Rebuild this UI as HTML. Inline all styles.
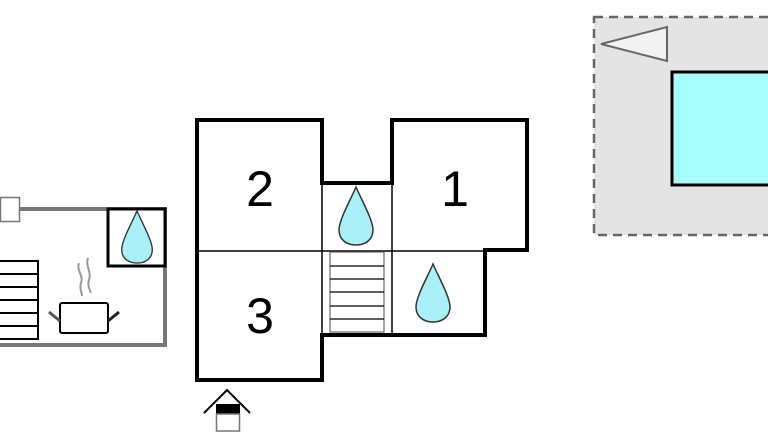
<!DOCTYPE html>
<html><head><meta charset="utf-8"><style>html,body{margin:0;padding:0;background:#fff;width:768px;height:432px;overflow:hidden}</style></head>
<body>
<svg width="768" height="432" viewBox="0 0 768 432" xmlns="http://www.w3.org/2000/svg">
<defs>
<path id="drop" d="M0,-29 C-6,-15 -17,4 -17,14 C-17,24 -9,29 0,29 C9,29 17,24 17,14 C17,4 6,-15 0,-29 Z" fill="#aaf0f8" stroke="#333" stroke-width="1.5"/>
</defs>
<!-- right pool area -->
<rect x="594" y="17" width="190" height="218" fill="#e4e4e4" stroke="#666" stroke-width="2.5" stroke-dasharray="9,6"/>
<polygon points="601,44 667,27 667,61" fill="#f2f2f2" stroke="#666" stroke-width="2"/>
<rect x="672" y="72" width="110" height="113" fill="#aaffff" stroke="#000" stroke-width="3"/>
<!-- left building -->
<rect x="0.5" y="197.5" width="19" height="24" fill="#fff" stroke="#777" stroke-width="1.5"/>
<polyline points="20,209 165,209 165,345 0,345" fill="none" stroke="#777" stroke-width="4"/>
<rect x="108" y="209" width="57" height="57" fill="#fff" stroke="#000" stroke-width="3"/>
<use href="#drop" transform="translate(137,237) scale(0.9)"/>
<g stroke="#000" stroke-width="2" fill="none">
<polyline points="0,261 38,261 38,339 0,339"/>
<line x1="0" y1="274" x2="38" y2="274"/><line x1="0" y1="287" x2="38" y2="287"/>
<line x1="0" y1="300" x2="38" y2="300"/><line x1="0" y1="313" x2="38" y2="313"/>
<line x1="0" y1="326" x2="38" y2="326"/>
<rect x="60" y="303" width="48" height="30" rx="2"/>
</g>
<line x1="49" y1="312" x2="60" y2="321" stroke="#555" stroke-width="3"/>
<line x1="108" y1="321" x2="119" y2="312" stroke="#222" stroke-width="3"/>
<path d="M79,263 C76,270 84,276 81,283 C79,289 82,292 82,296" stroke="#999" stroke-width="2" fill="none"/>
<path d="M88,258 C85,266 92,272 89,280 C87,286 90,290 91,293" stroke="#999" stroke-width="2" fill="none"/>
<!-- main building -->
<g stroke="#000" stroke-width="1.5">
<line x1="197" y1="251" x2="485" y2="251"/>
<line x1="322" y1="183" x2="322" y2="335"/>
<line x1="392" y1="183" x2="392" y2="335"/>
</g>
<g stroke="#000" stroke-width="1.2" fill="none">
<rect x="330" y="252" width="54" height="80" stroke="#666"/>
<line x1="330" y1="266" x2="384" y2="266"/><line x1="330" y1="279" x2="384" y2="279"/>
<line x1="330" y1="292" x2="384" y2="292"/><line x1="330" y1="306" x2="384" y2="306"/>
<line x1="330" y1="319" x2="384" y2="319"/>
</g>
<polygon points="197,120 322,120 322,183 392,183 392,120 527,120 527,250 485,250 485,335 322,335 322,380 197,380" fill="none" stroke="#000" stroke-width="4"/>
<use href="#drop" transform="translate(356,216)"/>
<use href="#drop" transform="translate(433,293)"/>
<g font-family="Liberation Sans, sans-serif" font-size="50" text-anchor="middle" fill="#000">
<text x="260" y="206">2</text>
<text x="455" y="206">1</text>
<text x="260" y="333">3</text>
</g>
<!-- entrance -->
<polyline points="204,413 227,390 250,413" fill="none" stroke="#000" stroke-width="2"/>
<rect x="216" y="404" width="24" height="10" fill="#000"/>
<rect x="216.5" y="414" width="23" height="17" fill="#fff" stroke="#777" stroke-width="1.5"/>
</svg>
</body></html>
